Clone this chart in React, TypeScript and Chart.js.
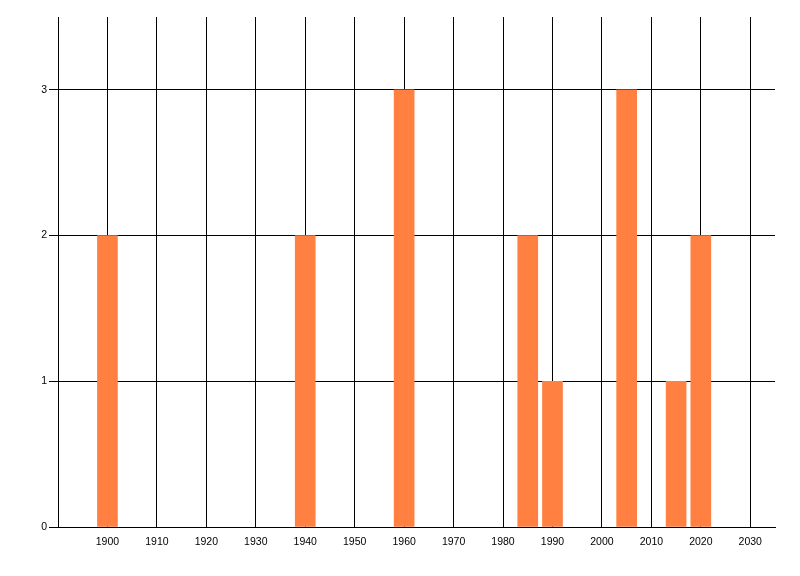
import React, { useEffect, useRef } from "react";
import { Chart, registerables } from "chart.js";

Chart.register(...registerables);

const years = [1900, 1940, 1960, 1985, 1990, 2005, 2015, 2020];
const counts = [2, 2, 3, 2, 1, 3, 1, 2];
const xTicks = [1900, 1910, 1920, 1930, 1940, 1950, 1960, 1970, 1980, 1990, 2000, 2010, 2020, 2030];
const yTicks = [0, 1, 2, 3];

export default function App() {
  const ref = useRef<HTMLCanvasElement>(null);
  useEffect(() => {
    if (!ref.current) return;
    const chart = new Chart(ref.current, {
      type: "bar",
      data: {
        datasets: [
          {
            data: years.map((y, i) => ({ x: y, y: counts[i] })),
            backgroundColor: "#FF8040",
            borderWidth: 0,
            barThickness: 20,
          },
        ],
      },
      options: {
        responsive: false,
        animation: false,
        layout: { padding: { top: 17, right: 25, left: 0, bottom: 0 } },
        plugins: { legend: { display: false }, tooltip: { enabled: false } },
        scales: {
          x: {
            type: "linear",
            min: 1890,
            max: 2035,
            offset: false,
            afterBuildTicks: (s: any) => {
              s.ticks = xTicks.map((v) => ({ value: v }));
            },
            afterFit: (s: any) => {
              s.height = 49;
            },
            grid: { color: "#000", lineWidth: 1, drawTicks: false, offset: false },
            border: { color: "#000", width: 1 },
            ticks: {
              color: "#000",
              padding: 9,
              maxRotation: 0,
              autoSkip: false,
              callback: (v: any) => String(v),
              font: { family: "Liberation Sans", size: 10.5 },
            },
          },
          y: {
            min: 0,
            max: 3.5,
            afterBuildTicks: (s: any) => {
              s.ticks = yTicks.map((v) => ({ value: v }));
            },
            afterFit: (s: any) => {
              s.width = 58;
            },
            grid: { color: "#000", lineWidth: 1, drawTicks: true, tickLength: 9 },
            border: { color: "#000", width: 1 },
            ticks: {
              color: "#000",
              padding: 2,
              callback: (v: any) => String(v),
              font: { family: "Liberation Sans", size: 10.5 },
            },
          },
        },
      },
    } as any);
    return () => chart.destroy();
  }, []);
  return (
    <div style={{ position: "absolute", left: 0, top: 0, width: 800, height: 576, background: "#fff" }}>
      <canvas ref={ref} width={800} height={576} />
    </div>
  );
}
